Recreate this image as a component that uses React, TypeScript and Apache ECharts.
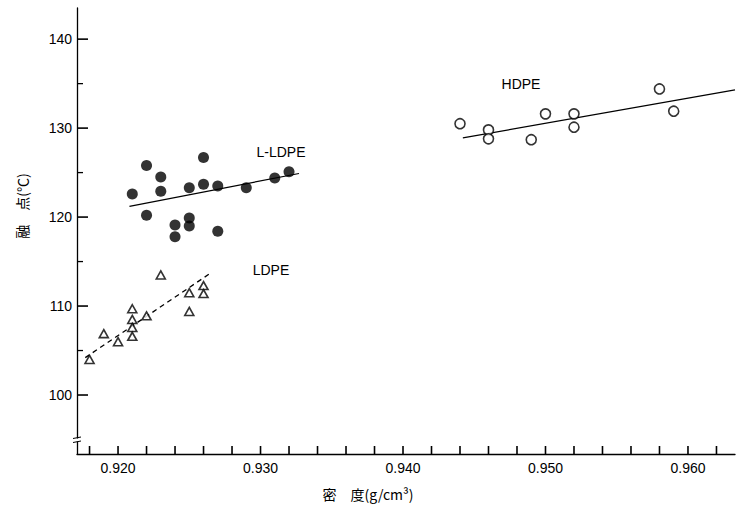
import React, { useEffect, useRef } from "react";
import * as echarts from "echarts";

const hdpeX = [0.944, 0.946, 0.946, 0.949, 0.95, 0.952, 0.952, 0.958, 0.959];
const hdpeY = [130.5, 129.8, 128.8, 128.7, 131.6, 131.6, 130.1, 134.4, 131.9];

const lldpeX = [0.921, 0.922, 0.922, 0.923, 0.923, 0.924, 0.924, 0.925, 0.925, 0.925, 0.926, 0.926, 0.927, 0.927, 0.929, 0.931, 0.932];
const lldpeY = [122.6, 125.8, 120.2, 124.5, 122.9, 119.1, 117.8, 123.3, 119.9, 119.0, 126.7, 123.7, 123.5, 118.4, 123.3, 124.4, 125.1];

const ldpeX = [0.918, 0.919, 0.92, 0.921, 0.921, 0.921, 0.921, 0.922, 0.923, 0.925, 0.925, 0.926, 0.926];
const ldpeY = [104.0, 106.9, 106.0, 109.7, 108.5, 107.6, 106.6, 108.9, 113.5, 111.5, 109.4, 112.3, 111.4];

const hdpeFit = [[0.9442, 128.9], [0.9633, 134.3]];
const lldpeFit = [[0.9208, 121.2], [0.9327, 124.9]];
const ldpeFit = [[0.9177, 104.2], [0.9264, 113.6]];

const xTicks = [0.918, 0.92, 0.922, 0.924, 0.926, 0.928, 0.93, 0.932, 0.934, 0.936, 0.938, 0.94, 0.942, 0.944, 0.946, 0.948, 0.95, 0.952, 0.954, 0.956, 0.958, 0.96, 0.962];
const xLabels = [0.92, 0.93, 0.94, 0.95, 0.96];
const yMajor = [100, 110, 120, 130, 140];
const yMinor = [105, 115, 125, 135];

const X_MIN = 0.91712;
const X_MAX = 0.9633;
const Y_MIN = 93.37;
const Y_MAX = 143.5;

const FONT = "Liberation Sans, Arial, sans-serif";
const CJK = "Noto Sans CJK JP, Noto Sans CJK SC, sans-serif";

const zip = (xs: number[], ys: number[]) => xs.map((x, i) => [x, ys[i]]);

const tickSeries = (data: number[][], size: number[], offset: number[]) => ({
  type: "scatter",
  data,
  symbol: "rect",
  symbolSize: size,
  symbolOffset: offset,
  symbolKeepAspect: false,
  itemStyle: { color: "#000", opacity: 1 },
  clip: false,
  silent: true,
  z: 10,
});

export default function App() {
  const ref = useRef<HTMLDivElement>(null);
  useEffect(() => {
    if (!ref.current) return;
    const chart = echarts.init(ref.current, null, { renderer: "svg" });
    const xTickData = xTicks.filter((v) => v > X_MIN && v < X_MAX).map((v) => [v, Y_MIN]);
    const yMajorData = yMajor.map((v) => [X_MIN, v]);
    const yMinorData = yMinor.map((v) => [X_MIN, v]);
    chart.setOption({
      animation: false,
      backgroundColor: "#fff",
      grid: { left: 77, top: 8, right: 12, bottom: 53 },
      xAxis: {
        type: "value",
        min: X_MIN,
        max: X_MAX,
        splitLine: { show: false },
        axisLine: { lineStyle: { color: "#000", width: 1.3 } },
        axisTick: { show: false },
        axisLabel: {
          customValues: xLabels,
          formatter: (v: number) => v.toFixed(3),
          color: "#000",
          fontFamily: FONT,
          fontSize: 14,
          margin: 7,
        },
      },
      yAxis: {
        type: "value",
        min: Y_MIN,
        max: Y_MAX,
        splitLine: { show: false },
        axisLine: { show: true, lineStyle: { color: "#000", width: 1.3 } },
        axisTick: { show: false },
        axisLabel: {
          customValues: yMajor,
          color: "#000",
          fontFamily: FONT,
          fontSize: 14,
          margin: 5,
        },
      },
      series: [
        tickSeries(xTickData, [1.6, 8], [0, -4]),
        tickSeries(yMajorData, [11, 1.6], [5.5, 0]),
        tickSeries(yMinorData, [6, 1.3], [3, 0]),
        {
          type: "line",
          data: hdpeFit,
          symbol: "none",
          lineStyle: { color: "#000", width: 1.3 },
        },
        {
          type: "line",
          data: lldpeFit,
          symbol: "none",
          lineStyle: { color: "#000", width: 1.2 },
        },
        {
          type: "line",
          data: ldpeFit,
          symbol: "none",
          lineStyle: { color: "#000", width: 1.3, type: [5, 4] },
        },
        {
          type: "scatter",
          data: zip(hdpeX, hdpeY),
          symbol: "circle",
          symbolSize: 10,
          itemStyle: { color: "#fff", borderColor: "#000", borderWidth: 1.6 },
          z: 5,
        },
        {
          type: "scatter",
          data: zip(lldpeX, lldpeY),
          symbol: "circle",
          symbolSize: 11,
          itemStyle: { color: "#000" },
          z: 5,
        },
        {
          type: "scatter",
          data: zip(ldpeX, ldpeY),
          symbol: "triangle",
          symbolSize: [9, 8],
          itemStyle: { color: "#fff", borderColor: "#000", borderWidth: 1.6 },
          z: 5,
        },
      ],
      graphic: [
        {
          type: "text",
          x: 521,
          y: 84,
          style: { text: "HDPE", fill: "#000", font: `14px ${FONT}`, align: "center", verticalAlign: "middle" },
        },
        {
          type: "text",
          x: 281,
          y: 152,
          style: { text: "L-LDPE", fill: "#000", font: `14px ${FONT}`, align: "center", verticalAlign: "middle" },
        },
        {
          type: "text",
          x: 271,
          y: 270,
          style: { text: "LDPE", fill: "#000", font: `14px ${FONT}`, align: "center", verticalAlign: "middle" },
        },
        {
          type: "text",
          x: 368,
          y: 494,
          style: { text: "密　度(g/cm³)", fill: "#000", font: `14px ${CJK}`, align: "center", verticalAlign: "middle" },
        },
        {
          type: "text",
          x: 22,
          y: 206,
          rotation: Math.PI / 2,
          style: { text: "融　点(℃)", fill: "#000", font: `14px ${CJK}`, align: "center", verticalAlign: "middle" },
        },
        {
          type: "rect",
          shape: { x: 74, y: 438.5, width: 6, height: 3 },
          style: { fill: "#fff" },
          z: 10,
        },
        {
          type: "line",
          shape: { x1: 73, y1: 438.5, x2: 81, y2: 437 },
          style: { stroke: "#000", lineWidth: 1 },
          z: 11,
        },
        {
          type: "line",
          shape: { x1: 73, y1: 442.5, x2: 81, y2: 441 },
          style: { stroke: "#000", lineWidth: 1 },
          z: 11,
        },
      ],
    });
    return () => chart.dispose();
  }, []);
  return (
    <div
      ref={ref}
      style={{ position: "absolute", left: 0, top: 0, width: 747, height: 507 }}
    />
  );
}
